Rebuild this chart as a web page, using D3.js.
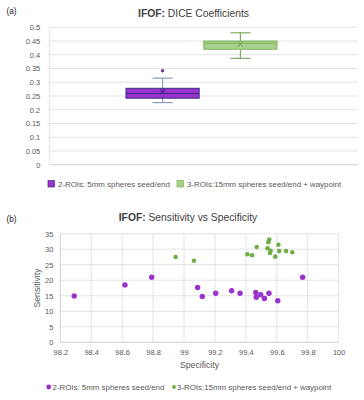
<!DOCTYPE html>
<html>
<head>
<meta charset="utf-8">
<script src="https://cdn.jsdelivr.net/npm/d3@7"></script>
<style>
  body { margin: 0; background: #fff; }
  svg { display: block; font-family: "Liberation Sans", Arial, sans-serif; }
</style>
</head>
<body>
<script>
const width = 364;
const height = 400;

// --- data: (a) DICE box plot stats ---
const seriesNames = ["2-ROIs: 5mm spheres seed/end", "3-ROIs:15mm spheres seed/end + waypoint"];
const boxStats = [
  { min: 0.226, q1: 0.242, median: 0.259, q3: 0.278, max: 0.315, mean: 0.266, outliers: [0.342] },
  { min: 0.387, q1: 0.420, median: 0.442, q3: 0.450, max: 0.480, mean: 0.439, outliers: [] }
];
const diceTicks = [0, 0.05, 0.1, 0.15, 0.2, 0.25, 0.3, 0.35, 0.4, 0.45, 0.5];

// --- data: (b) sensitivity vs specificity ---
const spec2 = [98.29, 98.618, 98.791, 99.088, 99.118, 99.205, 99.308, 99.362, 99.464, 99.467, 99.496, 99.52, 99.549, 99.606, 99.767];
const sens2 = [14.9, 18.5, 20.95, 17.65, 14.8, 15.8, 16.6, 15.8, 16.05, 14.5, 15.35, 14.1, 15.8, 13.4, 20.95];
const spec3 = [98.946, 99.064, 99.41, 99.44, 99.47, 99.54, 99.551, 99.545, 99.56, 99.556, 99.59, 99.61, 99.615, 99.66, 99.70];
const sens3 = [27.5, 26.3, 28.36, 28.04, 30.7, 30.3, 33.1, 32.26, 29.5, 28.8, 27.6, 31.45, 29.4, 29.4, 29.0];
const specTicks = [98.2, 98.4, 98.6, 98.8, 99, 99.2, 99.4, 99.6, 99.8, 100];
const sensTicks = [0, 5, 10, 15, 20, 25, 30, 35];

const purple = "#9933cc";
const green = "#70ad47";
const tickColor = "#595959";
const gridColor = "#e3e3e3";
const tickSize = 7.5;
const legendSize = 7.9;

const svg = d3.select("body").append("svg")
  .attr("width", width)
  .attr("height", height);

// ================= (a) =================
const gA = svg.append("g");

gA.append("text").attr("x", 6.5).attr("y", 14)
  .attr("font-size", 8.2).attr("fill", "#222").text("(a)");

const titleA = gA.append("text").attr("x", 193.5).attr("y", 17)
  .attr("text-anchor", "middle").attr("font-size", 10.3).attr("fill", "#404040");
titleA.append("tspan").attr("font-weight", "bold").text("IFOF:");
titleA.append("tspan").text(" DICE Coefficients");

const yA = d3.scaleLinear().domain([0, 0.5]).range([164.7, 27.3]);
const xA = d3.scaleBand().domain(seriesNames).range([126, 277]).paddingInner(0.06);

// gridlines
gA.append("g").selectAll("line").data(diceTicks).join("line")
  .attr("x1", 49.3).attr("x2", 358)
  .attr("y1", d => yA(d)).attr("y2", d => yA(d))
  .attr("stroke", d => d === 0 ? "#d0d0d0" : gridColor)
  .attr("stroke-width", 1);
gA.append("line").attr("x1", 49.3).attr("x2", 49.3)
  .attr("y1", yA(0.5)).attr("y2", yA(0)).attr("stroke", gridColor);

const axisA = gA.append("g").attr("transform", "translate(49.3,0)")
  .call(d3.axisLeft(yA).tickValues(diceTicks).tickSize(0).tickPadding(9).tickFormat(d => String(d)));
axisA.select(".domain").remove();
axisA.selectAll("text").attr("font-size", tickSize).attr("fill", tickColor)
  .attr("font-family", "Liberation Sans, Arial, sans-serif");

const boxStyle = [
  { fill: purple, stroke: "#3d2b8c", whisker: "#8b9bb8", mark: "#3d2b8c", dot: "#7030a0" },
  { fill: "#a9d18e", stroke: "#7fb35a", whisker: "#7fa860", mark: "#7fa860", dot: green }
];

boxStats.forEach((s, i) => {
  const st = boxStyle[i];
  const x0 = xA(seriesNames[i]);
  const bw = xA.bandwidth();
  const cx = x0 + bw / 2;
  const g = gA.append("g");
  // whiskers
  g.append("line").attr("x1", cx).attr("x2", cx).attr("y1", yA(s.max)).attr("y2", yA(s.q3))
    .attr("stroke", st.whisker).attr("stroke-width", 1.2);
  g.append("line").attr("x1", cx).attr("x2", cx).attr("y1", yA(s.q1)).attr("y2", yA(s.min))
    .attr("stroke", st.whisker).attr("stroke-width", 1.2);
  [s.max, s.min].forEach(v => {
    g.append("line").attr("x1", cx - 10).attr("x2", cx + 10).attr("y1", yA(v)).attr("y2", yA(v))
      .attr("stroke", st.whisker).attr("stroke-width", 1.2);
  });
  // box
  g.append("rect").attr("x", x0).attr("width", bw)
    .attr("y", yA(s.q3)).attr("height", yA(s.q1) - yA(s.q3))
    .attr("fill", st.fill).attr("stroke", st.stroke).attr("stroke-width", 1);
  g.append("line").attr("x1", x0).attr("x2", x0 + bw).attr("y1", yA(s.median)).attr("y2", yA(s.median))
    .attr("stroke", st.stroke).attr("stroke-width", 1);
  // mean marker
  const my = yA(s.mean), r = 2.5;
  g.append("path").attr("d", `M${cx - r},${my - r}L${cx + r},${my + r}M${cx - r},${my + r}L${cx + r},${my - r}`)
    .attr("stroke", st.mark).attr("stroke-width", 1.1);
  // outliers
  g.selectAll("circle").data(s.outliers).join("circle")
    .attr("cx", cx).attr("cy", d => yA(d)).attr("r", 1.7).attr("fill", st.dot);
});

// legend (a)
const legA = gA.append("g").attr("transform", "translate(0,184)");
[[48, 58, 0], [177, 187, 1]].forEach(([sx, tx, i]) => {
  legA.append("rect").attr("x", sx).attr("y", -3.5).attr("width", 6.5).attr("height", 6.5)
    .attr("fill", boxStyle[i].fill).attr("stroke", boxStyle[i].stroke).attr("stroke-width", 0.7);
  legA.append("text").attr("x", tx).attr("y", 2.8).attr("font-size", legendSize).attr("fill", tickColor)
    .text(seriesNames[i]);
});

// ================= (b) =================
const gB = svg.append("g");

gB.append("text").attr("x", 6.5).attr("y", 222)
  .attr("font-size", 8.2).attr("fill", "#222").text("(b)");

const titleB = gB.append("text").attr("x", 188).attr("y", 221.3)
  .attr("text-anchor", "middle").attr("font-size", 10.3).attr("fill", "#404040");
titleB.append("tspan").attr("font-weight", "bold").text("IFOF:");
titleB.append("tspan").text(" Sensitivity vs Specificity");

const xB = d3.scaleLinear().domain([98.2, 100]).range([60.3, 338.7]);
const yB = d3.scaleLinear().domain([0, 35]).range([342.3, 233.7]);

gB.append("g").selectAll("line").data(sensTicks).join("line")
  .attr("x1", xB(98.2)).attr("x2", xB(100))
  .attr("y1", d => yB(d)).attr("y2", d => yB(d))
  .attr("stroke", d => d === 0 ? "#d0d0d0" : gridColor);
gB.append("g").selectAll("line").data(specTicks).join("line")
  .attr("x1", d => xB(d)).attr("x2", d => xB(d))
  .attr("y1", yB(35)).attr("y2", yB(0))
  .attr("stroke", (d, i) => i === 0 ? "#d0d0d0" : gridColor);

const axisBY = gB.append("g").attr("transform", `translate(${xB(98.2)},0)`)
  .call(d3.axisLeft(yB).tickValues(sensTicks).tickSize(0).tickPadding(7));
axisBY.select(".domain").remove();
axisBY.selectAll("text").attr("font-size", tickSize).attr("fill", tickColor)
  .attr("font-family", "Liberation Sans, Arial, sans-serif");

const axisBX = gB.append("g").attr("transform", `translate(0,${yB(0)})`)
  .call(d3.axisBottom(xB).tickValues(specTicks).tickSize(0).tickPadding(7).tickFormat(d => String(+d.toFixed(1))));
axisBX.select(".domain").remove();
axisBX.selectAll("text").attr("font-size", tickSize).attr("fill", tickColor)
  .attr("font-family", "Liberation Sans, Arial, sans-serif");

gB.append("text").attr("x", 199.5).attr("y", 367.8).attr("text-anchor", "middle")
  .attr("font-size", 8.7).attr("fill", tickColor).text("Specificity");
gB.append("text").attr("transform", "translate(39.5,288) rotate(-90)").attr("text-anchor", "middle")
  .attr("font-size", 8.7).attr("fill", tickColor).text("Sensitivity");

gB.append("g").selectAll("circle").data(d3.zip(spec3, sens3)).join("circle")
  .attr("cx", d => xB(d[0])).attr("cy", d => yB(d[1])).attr("r", 2.3).attr("fill", green);
gB.append("g").selectAll("circle").data(d3.zip(spec2, sens2)).join("circle")
  .attr("cx", d => xB(d[0])).attr("cy", d => yB(d[1])).attr("r", 2.7).attr("fill", purple);

// legend (b)
const legB = gB.append("g").attr("transform", "translate(0,387)");
legB.append("circle").attr("cx", 48.7).attr("cy", 0).attr("r", 2.4).attr("fill", purple);
legB.append("text").attr("x", 52.5).attr("y", 2.8).attr("font-size", legendSize).attr("fill", tickColor).text(seriesNames[0]);
legB.append("circle").attr("cx", 174).attr("cy", 0).attr("r", 1.9).attr("fill", green);
legB.append("text").attr("x", 177).attr("y", 2.8).attr("font-size", legendSize).attr("fill", tickColor).text(seriesNames[1]);
</script>
</body>
</html>
